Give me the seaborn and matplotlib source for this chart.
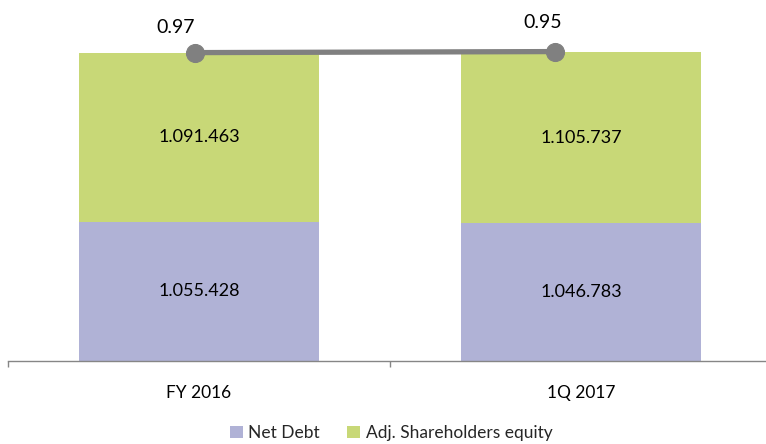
import matplotlib
matplotlib.use("Agg")
import matplotlib.pyplot as plt
import matplotlib.ticker as mticker
from matplotlib.patches import Patch
import seaborn as sns
import pandas as pd

# data
periods = ["FY 2016", "1Q 2017"]
net_debt = [1055428, 1046783]
adj_equity = [1091463, 1105737]
ratio = [0.97, 0.95]
ratio_labels = ["0.97", "0.95"]

net_color = "#b0b2d6"
eq_color = "#c8d877"
line_color = "#808080"

sns.set_theme(style="white")
plt.rcParams["font.family"] = ["Lato", "DejaVu Sans"]

df = pd.DataFrame({"period": periods, "net": net_debt, "eq": adj_equity})
df["total"] = df["net"] + df["eq"]

fig = plt.figure(figsize=(7.66, 4.44), dpi=100)
pos = [8 / 766, 83 / 444, 764 / 766, 361 / 444]
ax = fig.add_axes(pos)

# stacked bars: total first (green), net debt over it (purple)
sns.barplot(data=df, x="period", y="total", color=eq_color, width=0.626,
            saturation=1, ax=ax)
sns.barplot(data=df, x="period", y="net", color=net_color, width=0.626,
            saturation=1, ax=ax)
for p in ax.patches:
    p.set_edgecolor("none")

ax.set_xlim(-0.5, 1.5)
ax.set_ylim(154000, 2490000)
ax.set_xlabel("")
ax.set_ylabel("")
ax.set_yticks([])
for s in ["top", "left", "right"]:
    ax.spines[s].set_visible(False)
ax.spines["bottom"].set_color("#868686")
ax.spines["bottom"].set_linewidth(1.0)
ax.xaxis.set_minor_locator(mticker.FixedLocator([-0.5, 0.5, 1.5]))
ax.tick_params(axis="x", which="major", length=0, pad=17, labelsize=12.5,
               labelcolor="#000000")
ax.tick_params(axis="x", which="minor", length=4, width=1, color="#868686",
               bottom=True)

# data labels inside segments
for i in range(len(periods)):
    ax.text(i, (ax.get_ylim()[0] + net_debt[i]) / 2, f"{net_debt[i]:,}".replace(",", "."),
            ha="center", va="center", fontsize=13, color="#000000")
    ax.text(i, net_debt[i] + adj_equity[i] / 2, f"{adj_equity[i]:,}".replace(",", "."),
            ha="center", va="center", fontsize=13, color="#000000")

# ratio line on its own overlay axes
ax3 = fig.add_axes(pos, facecolor="none")
sns.lineplot(x=[0, 1], y=ratio, ax=ax3, color=line_color, linewidth=3.8,
             marker="o", markersize=13, markeredgecolor=line_color,
             markerfacecolor=line_color)
ax3.set_xlim(-0.519, 1.603)
ax3.set_ylim(6.95, -0.05)
ax3.axis("off")
offsets = [(-14, 18), (-9, 21)]
for i in range(len(ratio)):
    ax3.annotate(ratio_labels[i], (i, ratio[i]), xytext=offsets[i],
                 textcoords="offset points", ha="center", va="center",
                 fontsize=14, color="#000000")

handles = [Patch(facecolor=net_color, edgecolor="none", label="Net Debt"),
           Patch(facecolor=eq_color, edgecolor="none", label="Adj. Shareholders equity")]
fig.legend(handles=handles, loc="center", bbox_to_anchor=(391 / 766, 1 - 433 / 444),
           ncol=2, frameon=False, fontsize=12.5, handlelength=0.75,
           handleheight=0.75, handletextpad=0.3, columnspacing=1.6)

fig.savefig("out.png", dpi=100)
